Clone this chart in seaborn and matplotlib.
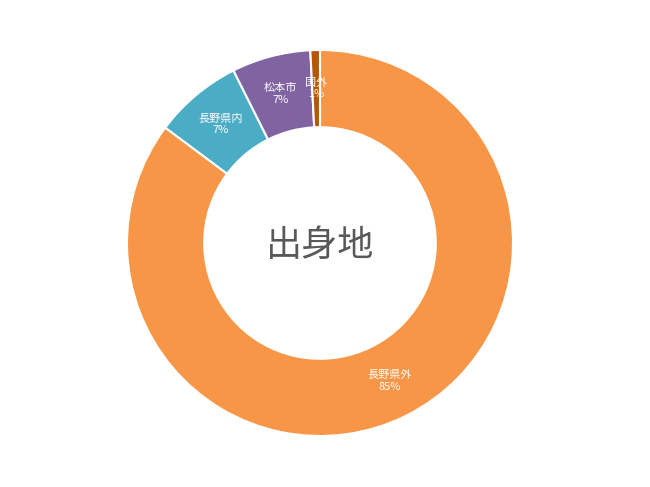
import numpy as np
import matplotlib.pyplot as plt
import seaborn as sns

# Data
categories = ["長野県外", "長野県内", "松本市", "国外"]
shares = [85.2, 7.4, 6.6, 0.8]
colors = ["#F79646", "#4BACC6", "#8064A2", "#B65708"]

sns.set_theme(style="white")
plt.rcParams["font.family"] = ["Noto Sans CJK JP", "DejaVu Sans"]

fig = plt.figure(figsize=(6.5, 4.87), dpi=100)
ax = fig.add_axes([127 / 650, 51 / 487, 386 / 650, 386 / 487])

inner = 0.6
wedges, _ = ax.pie(
    shares,
    colors=colors,
    startangle=90,
    counterclock=False,
    radius=1,
    wedgeprops=dict(width=1 - inner, edgecolor="white", linewidth=1.5),
)

# Labels in the middle of the ring
total = sum(shares)
mid_r = (1 + inner) / 2
for w, name, v in zip(wedges, categories, shares):
    ang = np.deg2rad((w.theta1 + w.theta2) / 2)
    ax.text(mid_r * np.cos(ang), mid_r * np.sin(ang),
            f"{name}\n{v / total * 100:.0f}%",
            ha="center", va="center", color="white", fontsize=8,
            linespacing=1.2)

ax.text(0, -0.018, "出身地", ha="center", va="center", fontsize=26, color="#595959")

ax.set_xlim(-1, 1)
ax.set_ylim(-1, 1)
ax.set_aspect("equal")
ax.axis("off")

fig.savefig("out.png", dpi=100)
plt.close()
